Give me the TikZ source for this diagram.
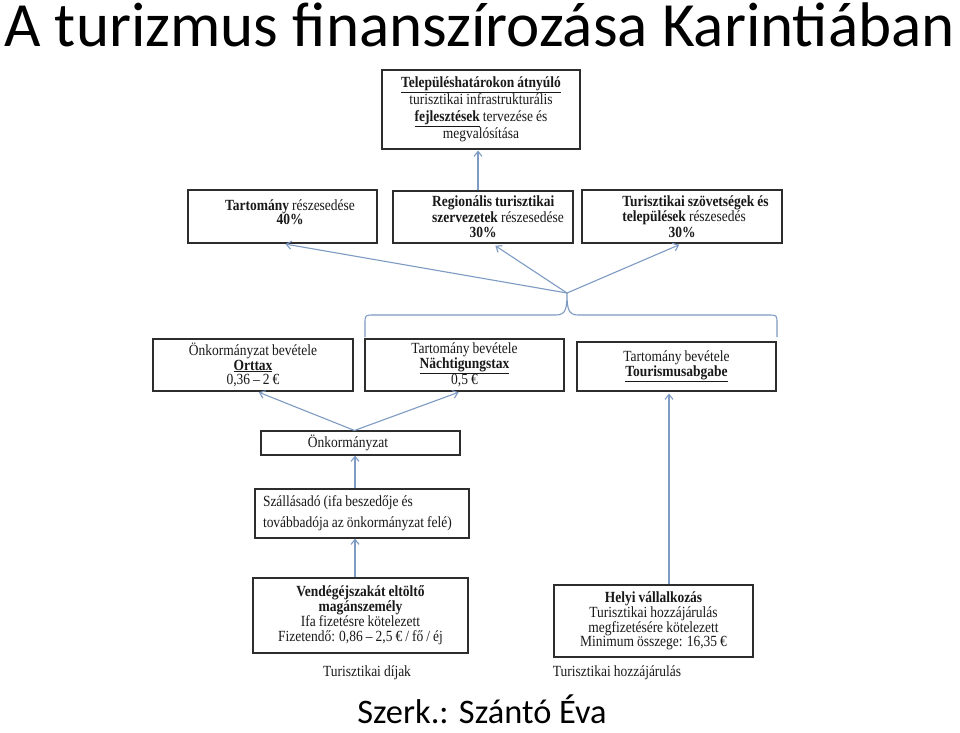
\documentclass[tikz,border=0pt]{standalone}
\usepackage{fontspec}
\setmainfont{Liberation Serif}[FakeStretch=0.87,WordSpace=0.9]
\newfontfamily\calibri{Carlito}
\usetikzlibrary{arrows.meta}
\definecolor{arrowblue}{RGB}{125,155,195}
\definecolor{boxgray}{RGB}{45,45,45}
\definecolor{textgray}{RGB}{25,25,25}

\begin{document}
\begin{tikzpicture}
  [x=1pt,y=-1pt,
   box/.style={draw=boxgray,line width=1.1pt,inner xsep=4pt,inner ysep=0pt,align=flush center,text=textgray,font=\fontsize{15.5}{14.5}\selectfont},
   arr/.style={draw=arrowblue,line width=1.1pt,-{Straight Barb[length=5pt,width=8pt]}},
   note/.style={text=textgray,font=\fontsize{15.5}{14.5}\selectfont}]

  \fill[white] (0,0) rectangle (960,732);
  \useasboundingbox (0,0) rectangle (960,732);

  \node[anchor=base west,inner sep=0pt,font=\calibri\fontsize{63}{63}\selectfont] (title) at (4,46) {A turizmus finanszírozása Karintiában};
  \node[anchor=base,inner sep=0pt,font=\calibri\fontsize{34.4}{36}\selectfont] (szerk) at (482,723) {Szerk.: Szántó Éva};

  \node[box,text width=190pt,minimum height=79pt,font=\fontsize{15.5}{17}\selectfont] (plan) at (481,109.5) {\underline{\textbf{Településhatárokon átnyúló}}\\ turisztikai infrastrukturális\\ \underline{\textbf{fejlesztések}} tervezése és\\ megvalósítása};

  \node[box,text width=181pt,minimum height=53pt] (tart) at (282.5,216.5) {\hspace*{15pt}\textbf{Tartomány} részesedése\\ \hspace*{15pt}\textbf{40\%}\\[-6pt]\mbox{}};
  \node[box,text width=172pt,minimum height=52pt] (reg) at (483,217) {\hspace*{30pt}\begin{tabular}{@{}l@{}}\textbf{Regionális turisztikai}\\ \textbf{szervezetek} részesedése\end{tabular}\\ \textbf{30\%}};
  \node[box,text width=192pt,minimum height=53pt] (szov) at (682,216.5) {\hspace*{27pt}\begin{tabular}{@{}l@{}}\textbf{Turisztikai szövetségek és}\\ \textbf{települések} részesedés\end{tabular}\\ \textbf{30\%}};

  \node[box,text width=192pt,minimum height=52pt] (ort) at (253,365) {Önkormányzat bevétele\\ \underline{\textbf{Orttax}}\\ 0,36 – 2 €};
  \node[box,text width=191pt,minimum height=52pt] (nacht) at (464.5,365) {Tartomány bevétele\\ \underline{\textbf{Nächtigungstax}}\\ 0,5 €};
  \node[box,text width=191pt,minimum height=49pt] (tour) at (676.5,366.5) {Tartomány bevétele\\ \underline{\textbf{Tourismusabgabe}}};

  \node[box,text width=191pt,minimum height=24pt] (onk) at (360.5,443) {Önkormányzat\hspace*{25pt}};
  \node[box,inner xsep=8pt,text width=198pt,minimum height=49pt,align=flush left,font=\fontsize{15.5}{21}\selectfont] (szall) at (362,513.5) {Szállásadó (ifa beszedője és\\ továbbadója az önkormányzat felé)};
  \node[box,text width=207pt,minimum height=75pt,font=\fontsize{15.5}{15}\selectfont] (vend) at (360.5,615.5) {\textbf{Vendégéjszakát eltöltő}\\ \textbf{magánszemély}\\ Ifa fizetésre kötelezett\\ Fizetendő: 0,86 – 2,5 € / fő / éj};
  \node[box,text width=191pt,minimum height=72pt,font=\fontsize{15.5}{14.7}\selectfont] (helyi) at (653.5,621) {\textbf{Helyi vállalkozás}\\ Turisztikai hozzájárulás\\ megfizetésére kötelezett\\ Minimum összege: 16,35 €};

  \node[note] (dijak) at (367,673) {Turisztikai díjak};
  \node[note] (hozza) at (617,673) {Turisztikai hozzájárulás};

  \coordinate (csucs) at (567,293);
  \draw[draw=arrowblue,line width=1.1pt] (365,337) -- (365,324) .. controls (365,315) .. (374,315) -- (556,315) .. controls (566,315) and (567,308) .. (csucs) .. controls (567,308) and (568,315) .. (578,315) -- (768,315) .. controls (777,315) .. (777,324) -- (777,337);

  \draw[arr,shorten >=3pt] (csucs) -- (tart.south);
  \draw[arr,shorten >=4pt] (csucs) -- ([xshift=9pt]reg.south);
  \draw[arr,shorten >=3pt] (csucs) -- (szov.south);
  \draw[arr,shorten >=1pt] ([xshift=-5pt]reg.north) -- ([xshift=-5pt]reg.north |- plan.south);
  \draw[arr,shorten >=2pt] ([xshift=-6pt]onk.north) -- ([xshift=4pt]ort.south);
  \draw[arr,shorten >=2pt] ([xshift=-6pt]onk.north) -- ([xshift=-4pt]nacht.south);
  \draw[arr] ([xshift=-7pt]szall.north) -- ([xshift=-7pt]szall.north |- onk.south);
  \draw[arr] ([xshift=-5.5pt]vend.north) -- ([xshift=-5.5pt]vend.north |- szall.south);
  \draw[arr,shorten >=2pt] ([xshift=15.5pt]helyi.north) -- ([xshift=15.5pt]helyi.north |- tour.south);
\end{tikzpicture}
\end{document}
